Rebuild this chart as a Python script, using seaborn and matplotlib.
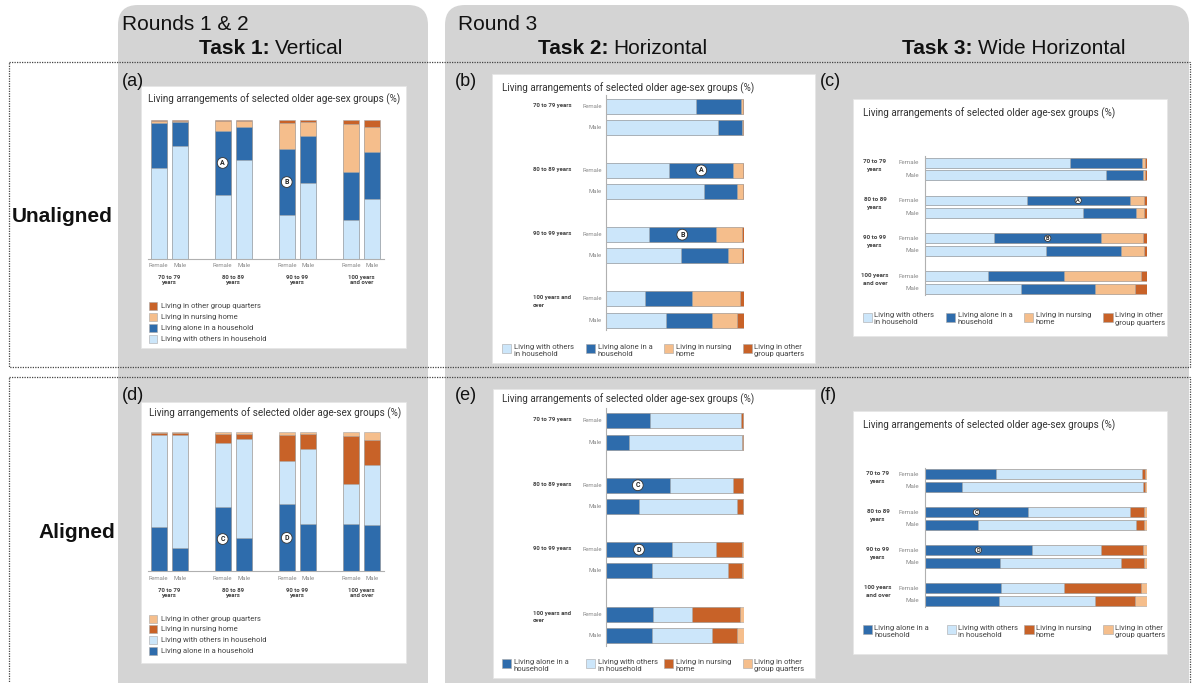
"""Living arrangements of older age-sex groups: unaligned vs aligned stacked bars."""

import matplotlib

matplotlib.use("Agg")
import matplotlib.pyplot as plt
import matplotlib.transforms as mtransforms
from matplotlib.patches import FancyBboxPatch, Rectangle
import pandas as pd
import seaborn as sns

W, H = 1193, 683

AGES = ["70 to 79 years", "80 to 89 years", "90 to 99 years", "100 years and over"]
SEXES = ["Female", "Male"]
# Female, Male per age group (%)
WITH_OTHERS = [65.6, 81.5, 45.9, 71.2, 31.3, 54.6, 28.4, 43.3]
ALONE = [32.2, 16.8, 46.4, 24.0, 48.1, 33.7, 34.1, 33.4]
NURSING = [1.4, 1.0, 6.7, 3.8, 18.8, 10.6, 34.9, 18.0]
OTHER_GQ = [0.8, 0.7, 1.0, 1.0, 1.8, 1.1, 2.6, 5.3]

AGE_LABELS_V = ["70 to 79\nyears", "80 to 89\nyears", "90 to 99\nyears", "100 years\nand over"]
AGE_LABELS_H = ["70 to 79 years", "80 to 89 years", "90 to 99 years", "100 years and\nover"]
AGE_LABELS_W = ["70 to 79\nyears", "80 to 89\nyears", "90 to 99\nyears", "100 years\nand over"]

LEGEND_LONG = {
    "with_others": "Living with others in household",
    "alone": "Living alone in a household",
    "nursing": "Living in nursing home",
    "other_gq": "Living in other group quarters",
}
LEGEND_SHORT = {
    "with_others": "Living with others\nin household",
    "alone": "Living alone in a\nhousehold",
    "nursing": "Living in nursing\nhome",
    "other_gq": "Living in other\ngroup quarters",
}
TITLE = "Living arrangements of selected older age-sex groups (%)"

LIGHT_BLUE = "#cce6fa"
DARK_BLUE = "#2e6cac"
LIGHT_ORANGE = "#f5be8c"
DARK_ORANGE = "#c86228"
EDGE = "#a8a8a8"
GRAY_BOX = "#d4d4d4"

UNALIGNED = [("with_others", LIGHT_BLUE), ("alone", DARK_BLUE),
             ("nursing", LIGHT_ORANGE), ("other_gq", DARK_ORANGE)]
ALIGNED = [("alone", DARK_BLUE), ("with_others", LIGHT_BLUE),
           ("nursing", DARK_ORANGE), ("other_gq", LIGHT_ORANGE)]

df = pd.DataFrame({
    "age": [a for a in AGES for _ in SEXES],
    "sex": SEXES * len(AGES),
    "with_others": WITH_OTHERS,
    "alone": ALONE,
    "nursing": NURSING,
    "other_gq": OTHER_GQ,
})

sns.set_style("white")
plt.rcParams["font.family"] = ["Roboto", "DejaVu Sans"]

fig = plt.figure(figsize=(W / 100, H / 100), dpi=100)
bg = fig.add_axes([0, 0, 1, 1])
bg.set_xlim(0, W)
bg.set_ylim(H, 0)
bg.axis("off")


def shift(base, dx=0.0, dy=0.0):
    # dx, dy in pixels, dy positive = downwards
    return base + mtransforms.ScaledTranslation(dx / 100, -dy / 100, fig.dpi_scale_trans)


def px_axes(left, top, right, bottom):
    ax = fig.add_axes([left / W, 1 - bottom / H, (right - left) / W, (bottom - top) / H])
    ax.patch.set_alpha(0)
    return ax


def draw_stack(ax, layers, orient, width, gap):
    cum = df[[k for k, _ in layers]].cumsum(axis=1)
    for key, color in reversed(layers):
        d = df.assign(value=cum[key])
        kw = dict(data=d, hue="sex", order=AGES, hue_order=SEXES,
                  palette={s: color for s in SEXES}, width=width, gap=gap,
                  saturation=1, errorbar=None, legend=False,
                  edgecolor=EDGE, linewidth=0.4, ax=ax)
        if orient == "v":
            sns.barplot(x="age", y="value", **kw)
        else:
            sns.barplot(x="value", y="age", orient="h", **kw)
    return cum


def seg_mid(cum, layers, key, row):
    keys = [k for k, _ in layers]
    i = keys.index(key)
    start = 0 if i == 0 else cum.iloc[row, i - 1]
    return start + (cum.iloc[row, i] - start) / 2


def vertical_panel(top, layers, marks, legend_y):
    ax = px_axes(148, top, 384, top + 139)
    width, gap = 0.656, 0.24
    cum = draw_stack(ax, layers, "v", width, gap)
    ax.set_xlim(-0.329, 3.353)
    ax.set_ylim(0, 100)
    ax.set_xticks([])
    ax.set_yticks([])
    ax.set_xlabel("")
    ax.set_ylabel("")
    for s in ["top", "left", "right"]:
        ax.spines[s].set_visible(False)
    ax.spines["bottom"].set_color("#b0b0b0")
    ax.spines["bottom"].set_linewidth(0.8)
    tr = mtransforms.blended_transform_factory(ax.transData, ax.transAxes)
    for g, lab in enumerate(AGE_LABELS_V):
        for j, sex in enumerate(SEXES):
            ax.text(g + (j - 0.5) * width / 2, 0, sex, transform=shift(tr, 0, 6.7),
                    ha="center", va="center", fontsize=4.3, color="#8a8a8a")
        ax.text(g, 0, lab, transform=shift(tr, 0, 21.3), ha="center", va="center",
                fontsize=4.3, fontweight="bold", color="#444", linespacing=1.0)
    for letter, g in marks:
        row = g * len(SEXES)
        ax.text(g - width / 4, seg_mid(cum, layers, "alone", row), letter,
                ha="center", va="center", fontsize=5, fontweight="bold", color="#222",
                bbox=dict(boxstyle="circle,pad=0.2", fc="white", ec="#333", lw=0.6))
    for i, (key, color) in enumerate(reversed(layers)):
        y = legend_y[i]
        bg.add_patch(Rectangle((149, y - 4), 8, 8, fc=color, ec=EDGE, lw=0.4, zorder=4))
        bg.text(160.7, y, LEGEND_LONG[key], ha="left", va="center",
                fontsize=5.5, color="#444", zorder=4)


def horizontal_panel(box, g0, pitch, layers, marks, width, gap, age_dx, age_ha,
                     age_labels, sex_dx, line_dy, mark_fs, mark_pad, legend_x, legend_y,
                     fs_lab):
    left, top, right, bottom = box
    ax = px_axes(left, top, right, bottom)
    cum = draw_stack(ax, layers, "h", width, gap)
    ax.set_xlim(0, 100)
    ax.set_ylim((bottom - g0) / pitch, -(g0 - top) / pitch)
    ax.set_xticks([])
    ax.set_yticks([])
    ax.set_xlabel("")
    ax.set_ylabel("")
    for s in ["top", "bottom", "right"]:
        ax.spines[s].set_visible(False)
    ax.spines["left"].set_color("#b0b0b0")
    ax.spines["left"].set_linewidth(0.8)
    tr = mtransforms.blended_transform_factory(ax.transAxes, ax.transData)
    for g, lab in enumerate(age_labels):
        for j, sex in enumerate(SEXES):
            ax.text(0, g + (j - 0.5) * width / 2, sex, transform=shift(tr, sex_dx, 0),
                    ha="right", va="center", fontsize=fs_lab, color="#8a8a8a")
        for k, line in enumerate(lab.split("\n")):
            ax.text(0, g - width / 4, line, transform=shift(tr, age_dx, k * line_dy - 1),
                    ha=age_ha, va="center", fontsize=fs_lab, fontweight="bold", color="#444")
    for letter, g in marks:
        row = g * len(SEXES)
        ax.text(seg_mid(cum, layers, "alone", row), g - width / 4, letter,
                ha="center", va="center", fontsize=mark_fs, fontweight="bold", color="#222",
                bbox=dict(boxstyle=f"circle,pad={mark_pad}", fc="white", ec="#333", lw=0.6))
    for i, (key, color) in enumerate(layers):
        x = legend_x[i]
        bg.add_patch(Rectangle((x, legend_y - 4.7), 9.4, 9.4, fc=color, ec=EDGE, lw=0.4,
                               zorder=4))
        bg.text(x + 11.5, legend_y - 4.7, LEGEND_SHORT[key], ha="left", va="top",
                fontsize=5.5, color="#444", linespacing=1.2, zorder=4)


# ---- background: grey round boxes, dotted frames, white cards ----
bg.add_patch(FancyBboxPatch((118, 5), 310, 700, boxstyle="round,pad=0,rounding_size=20",
                            fc=GRAY_BOX, ec="none", zorder=1))
bg.add_patch(FancyBboxPatch((445, 5), 744, 700, boxstyle="round,pad=0,rounding_size=20",
                            fc=GRAY_BOX, ec="none", zorder=1))
for y0, h in [(62, 305), (377, 310)]:
    bg.add_patch(Rectangle((9, y0), 1181, h, fill=False, ls=(0, (1, 1)), lw=0.9,
                           ec="#444", zorder=2))

cards = {
    "a": (141, 86, 406, 348),
    "b": (492, 74, 815, 363),
    "c": (853, 99, 1167, 336),
    "d": (141, 402, 406, 663),
    "e": (493, 389, 815, 678),
    "f": (853, 411, 1167, 654),
}
for l, t, r, b in cards.values():
    bg.add_patch(Rectangle((l, t), r - l, b - t, fc="white", ec="#e6e6e6", lw=0.5, zorder=3))

titles = {"a": (148, 99), "b": (502, 88), "c": (863, 113), "d": (149, 413),
          "e": (502, 399), "f": (863, 425)}
for x, y in titles.values():
    bg.text(x, y, TITLE, ha="left", va="center", fontsize=7.1, color="#333", zorder=4)

labels = {"(a)": (122, 82), "(b)": (455, 82), "(c)": (820, 82),
          "(d)": (122, 396), "(e)": (455, 396), "(f)": (820, 396)}
for txt, (x, y) in labels.items():
    bg.text(x, y, txt, ha="left", va="center", fontsize=13, family="Liberation Sans",
            color="#111", zorder=4)

hdr = dict(fontsize=15, family="Liberation Sans", color="#111", va="center", zorder=4)
bg.text(122, 24, "Rounds 1 & 2", ha="left", **hdr)
bg.text(458, 24, "Round 3", ha="left", **hdr)
for x, name in [(270, "Vertical"), (608, "Horizontal"), (973, "Wide Horizontal")]:
    task = {270: "Task 1:", 608: "Task 2:", 973: "Task 3:"}[x]
    bg.text(x, 49, task, ha="right", fontweight="bold", **hdr)
    bg.text(x + 5, 49, name, ha="left", **hdr)
bg.text(12, 217, "Unaligned", ha="left", fontweight="bold", **hdr)
bg.text(115, 532, "Aligned", ha="right", fontweight="bold", **hdr)

# ---- (a) and (d): vertical ----
vertical_panel(120, UNALIGNED, [("A", 1), ("B", 2)], [305.7, 317.3, 328, 338.7])
vertical_panel(432.3, ALIGNED, [("C", 1), ("D", 2)], [618.7, 629.3, 640.3, 651.3])

# ---- (b) and (e): horizontal ----
common_h = dict(width=0.662, gap=0.295, age_dx=-72.7, age_ha="left",
                age_labels=AGE_LABELS_H, sex_dx=-4, line_dy=7.3, mark_fs=5, mark_pad=0.2,
                legend_x=[502, 586, 664, 743], fs_lab=4.3)
horizontal_panel((605.7, 95, 744, 330), 116.7, 64.3, UNALIGNED, [("A", 1), ("B", 2)],
                 legend_y=348.5, **common_h)
horizontal_panel((605.7, 408, 744, 646), 431.5, 64.4, ALIGNED, [("C", 1), ("D", 2)],
                 legend_y=663.5, **common_h)

# ---- (c) and (f): wide horizontal ----
common_w = dict(width=0.667, gap=0.23, age_ha="center", age_labels=AGE_LABELS_W,
                sex_dx=-6, line_dy=8, mark_fs=4, mark_pad=0.12, fs_lab=4.5)
horizontal_panel((925, 156, 1146.7, 295), 169, 37.8, UNALIGNED, [("A", 1), ("B", 2)],
                 age_dx=-50, legend_x=[862.7, 946, 1024, 1103.3], legend_y=317.2,
                 **common_w)
horizontal_panel((925, 468, 1146.7, 606.7), 480.65, 37.9, ALIGNED, [("C", 1), ("D", 2)],
                 age_dx=-47, legend_x=[862.7, 946.7, 1024.3, 1103.3], legend_y=629.5,
                 **common_w)

fig.savefig("out.png", dpi=100)
